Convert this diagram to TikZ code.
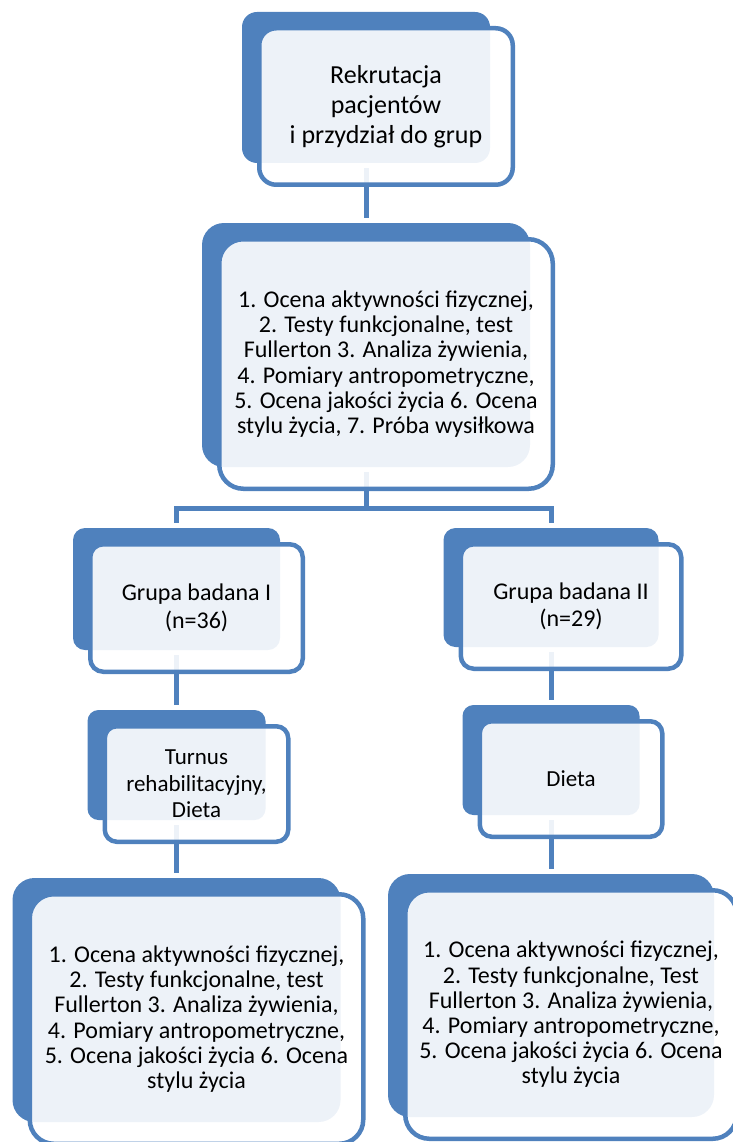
\documentclass[tikz,border=0pt]{standalone}
\usepackage{fontspec}
\setmainfont{Carlito}
\definecolor{accent}{HTML}{4F81BD}
\tikzset{
  backbox/.style={fill=accent, inner sep=0pt},
  frontbox/.style={draw=accent, line width=4.5pt, fill=white, fill opacity=0.9,
    text opacity=1, align=center, inner sep=0pt},
  conn/.style={draw=accent, line width=5pt, shorten <=5pt, shorten >=5pt}
}
\begin{document}
\begin{tikzpicture}[x=1pt, y=-1pt]
      \useasboundingbox (0,0) rectangle (732,1142);

      % dark boxes behind
      \begin{scope}[every node/.style={backbox}]
        \node[minimum width=248, minimum height=151, rounded corners=15] (rekB)  at (366,87.5)   {};
        \node[minimum width=328, minimum height=244, rounded corners=22] (oceB)  at (366,345)    {};
        \node[minimum width=207, minimum height=122, rounded corners=12] (grIB)  at (176.5,589)  {};
        \node[minimum width=215, minimum height=119, rounded corners=12] (grIIB) at (551,587.5)  {};
        \node[minimum width=178, minimum height=110, rounded corners=11] (turB)  at (176.5,765)  {};
        \node[minimum width=177, minimum height=110, rounded corners=11] (dieB)  at (551,760)    {};
        \node[minimum width=328, minimum height=244, rounded corners=22] (ocIB)  at (176.5,1000) {};
        \node[minimum width=326, minimum height=243, rounded corners=22] (ocIIB) at (551,995.5)  {};
      \end{scope}

      % connectors
      \coordinate (split) at (366,508);
      \begin{scope}[every edge/.style={conn}]
        \path (rekB) edge (oceB);
        \path (grIB) edge (turB);
        \path (turB) edge (ocIB);
        \path (grIIB) edge (dieB);
        \path (dieB) edge (ocIIB);
      \end{scope}
      \draw[conn] (oceB.south) |- (split) -| (grIB.north);
      \draw[conn, shorten <=0pt] (split) -| (grIIB.north);

      % light boxes with text
      \begin{scope}[every node/.style={frontbox}]
        \node[minimum width=253.5, minimum height=156.5, rounded corners=17,
          font=\fontsize{26}{30}\selectfont] (rekF) at (386,106.5)
          {Rekrutacja\\pacjentów\\ i przydział do grup};
        \node[minimum width=333.5, minimum height=249.5, rounded corners=24,
          font=\fontsize{24}{25.2}\selectfont] (oceF) at (386,364)
          {1. Ocena aktywności fizycznej,\\2. Testy funkcjonalne, test\\Fullerton 3. Analiza żywienia,\\4. Pomiary antropometryczne,\\5. Ocena jakości życia 6. Ocena\\stylu życia, 7. Próba wysiłkowa};
        \node[minimum width=212.5, minimum height=127.5, rounded corners=13,
          font=\fontsize{24}{27.5}\selectfont] (grIF) at (196.5,608)
          {Grupa badana I\\(n=36)};
        \node[minimum width=220.5, minimum height=124.5, rounded corners=13,
          font=\fontsize{24}{27.5}\selectfont] (grIIF) at (571,606.5)
          {Grupa badana II\\(n=29)};
        \node[minimum width=183.5, minimum height=115.5, rounded corners=12,
          font=\fontsize{23}{26.5}\selectfont] (turF) at (196.5,784)
          {Turnus\\rehabilitacyjny,\\Dieta};
        \node[minimum width=182.5, minimum height=115.5, rounded corners=12,
          font=\fontsize{23}{26.5}\selectfont] (dieF) at (571,779)
          {Dieta};
        \node[minimum width=333.5, minimum height=249.5, rounded corners=24,
          font=\fontsize{24}{25.2}\selectfont] (ocIF) at (196.5,1019)
          {1. Ocena aktywności fizycznej,\\2. Testy funkcjonalne, test\\Fullerton 3. Analiza żywienia,\\4. Pomiary antropometryczne,\\5. Ocena jakości życia 6. Ocena\\stylu życia};
        \node[minimum width=331.5, minimum height=248.5, rounded corners=24,
          font=\fontsize{24}{25.2}\selectfont] (ocIIF) at (571,1014.5)
          {1. Ocena aktywności fizycznej,\\2. Testy funkcjonalne, Test\\Fullerton 3. Analiza żywienia,\\4. Pomiary antropometryczne,\\5. Ocena jakości życia 6. Ocena\\stylu życia};
      \end{scope}

    \end{tikzpicture}
\end{document}
